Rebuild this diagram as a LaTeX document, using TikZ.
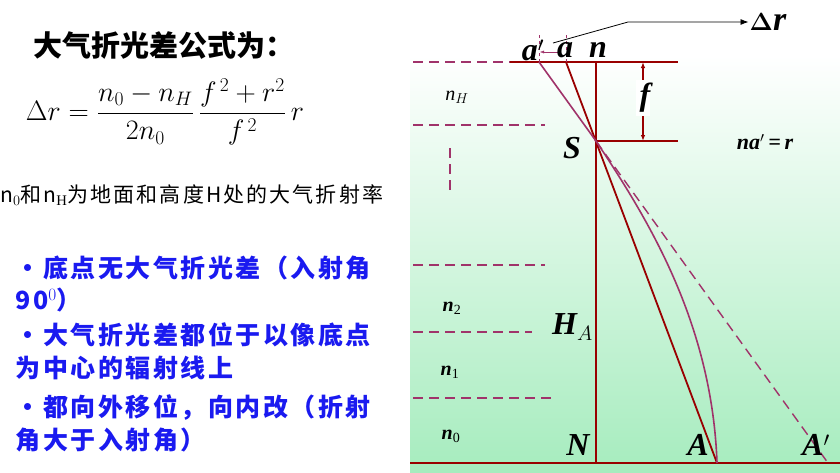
\documentclass[tikz,border=0pt]{standalone}
\usepackage{amsmath,bm}
\usepackage{fontspec}
\setmainfont{Liberation Serif}
\newfontfamily\cjk{Noto Sans CJK SC}
\newfontfamily\cjkw[LetterSpace=10]{Noto Sans CJK SC}
\usetikzlibrary{arrows.meta}
\definecolor{dred}{HTML}{990000}
\definecolor{mag}{HTML}{A0336A}
\definecolor{bblue}{HTML}{1A1AF0}
\definecolor{lgreen}{HTML}{A6ECBE}
\tikzset{
 dl/.style={mag,dashed,dash pattern=on 10pt off 6pt,line width=1.4pt},
 rl/.style={dred,line width=1.8pt},
 ml/.style={mag,line width=1.6pt},
 lab/.style={font=\fontsize{32}{34}\selectfont\bfseries\itshape,inner sep=1pt},
 bul/.style={anchor=west,text=bblue,font=\cjkw\fontsize{25}{27}\selectfont\bfseries}
}
\begin{document}
\begin{tikzpicture}[x=1pt,y=-1pt]
\useasboundingbox (0,0) rectangle (840,472);
\fill[white] (0,0) rectangle (840,472);
\shade[top color=white,bottom color=lgreen] (410,55) rectangle (840,472);
% left texts
\node[anchor=west,font=\cjk\fontsize{29}{31}\selectfont\bfseries] (title) at (30,45) {大气折光差公式为：};
\node[anchor=west,scale=1.13,font=\fontsize{27}{29}\selectfont] (form) at (22,112) {$\Delta r=\dfrac{n_0-n_H}{2n_0}\,\dfrac{f^{\,2}+r^2}{f^{\,2}}\,r$};
\node[anchor=west,inner sep=0pt,font=\cjkw\fontsize{21}{24}\selectfont] (def) at (0,195) {n$_0$和n$_\mathrm{H}$为地面和高度H处的大气折射率};
\node[bul] (b1) at (12,268) {•底点无大气折光差（入射角};
\node[bul] (b2) at (12,300) {90$^0$）};
\node[bul] (b3) at (12,335) {•大气折光差都位于以像底点};
\node[bul] (b4) at (12,368) {为中心的辐射线上};
\node[bul] (b5) at (12,408) {•都向外移位，向内改（折射};
\node[bul] (b6) at (12,440) {角大于入射角）};
% geometry
\coordinate (ap) at (539,62); \coordinate (a) at (566,62); \coordinate (n) at (596,62);
\coordinate (S) at (596,141); \coordinate (N) at (596,463);
\coordinate (A) at (717,463); \coordinate (Ap) at (828,463);
\coordinate (tr) at (678,62); \coordinate (sr) at (678,141);
% dashed layer lines
\draw[dl] (413,62) -- (510,62);
\draw[dl] (413,125) -- (545,125);
\draw[dl] (450,148) -- (450,195);
\draw[dl] (413,265) -- (545,265);
\draw[dl] (413,332) -- (532,332);
\draw[dl] (413,398) -- (552,398);
\draw[rl] (510,62) -- (tr);
\draw[rl] (n) -- (N);
\draw[rl] (S) -- (sr);
\draw[rl] (410,463) -- (840,463);
\draw[rl] (a) -- (A);
\draw[ml] (ap) -- (S);
\draw[ml] (S) .. controls (645,215) and (712,320) .. (A);
\draw[dl] (S) -- (Ap);
\draw[rl,line width=1.3pt,{Latex[length=6pt]}-{Latex[length=6pt]}] (643,62) -- (643,141);
\fill[white] (636,80) rectangle (650,116);
\node[lab] (f) at (645,98) {f};
% small marks
\draw[mag,dashed,thin] (ap) -- (539,33);
\draw[mag,dashed,thin] (a) -- (566,33);
\draw[mag,-{Latex[length=4pt]}] (560,52) -- (540,52);
\coordinate (dstart) at (553,43);
\node[font=\fontsize{34}{36}\selectfont\bfseries\itshape,inner sep=1pt] (dr) at (768,22) {$\bm{\Delta}$r};
\draw[thick,-{Latex[length=8pt]}] (dstart) -- (628,22) -- (dr.west);
% labels
\node[lab] (lap) at (533,50) {a$'$};
\node[lab] (la) at (565,50) {a};
\node[lab] (ln) at (598,50) {n};
\node[lab] (lS) at (572,148) {S};
\node[font=\fontsize{22}{24}\selectfont\bfseries\itshape] (eq) at (765,142) {na$'$\,=\,r};
\node[font=\fontsize{20}{22}\selectfont\itshape] (nH) at (457,97) {n$_H$};
\node[font=\fontsize{20}{22}\selectfont\bfseries\itshape] (n2) at (452,308) {n$_{\mathrm{2}}$};
\node[font=\fontsize{20}{22}\selectfont\bfseries\itshape] (n1) at (450,372) {n$_{\mathrm{1}}$};
\node[font=\fontsize{20}{22}\selectfont\bfseries\itshape] (n0) at (451,436) {n$_{\mathrm{0}}$};
\node[lab,anchor=east] (HA) at (594,327) {H$_{A}$};
\node[lab] (lN) at (578,445) {N};
\node[lab] (lA) at (698,445) {A};
\node[lab] (lAp) at (816,445) {A$'$};
\end{tikzpicture}
\end{document}
